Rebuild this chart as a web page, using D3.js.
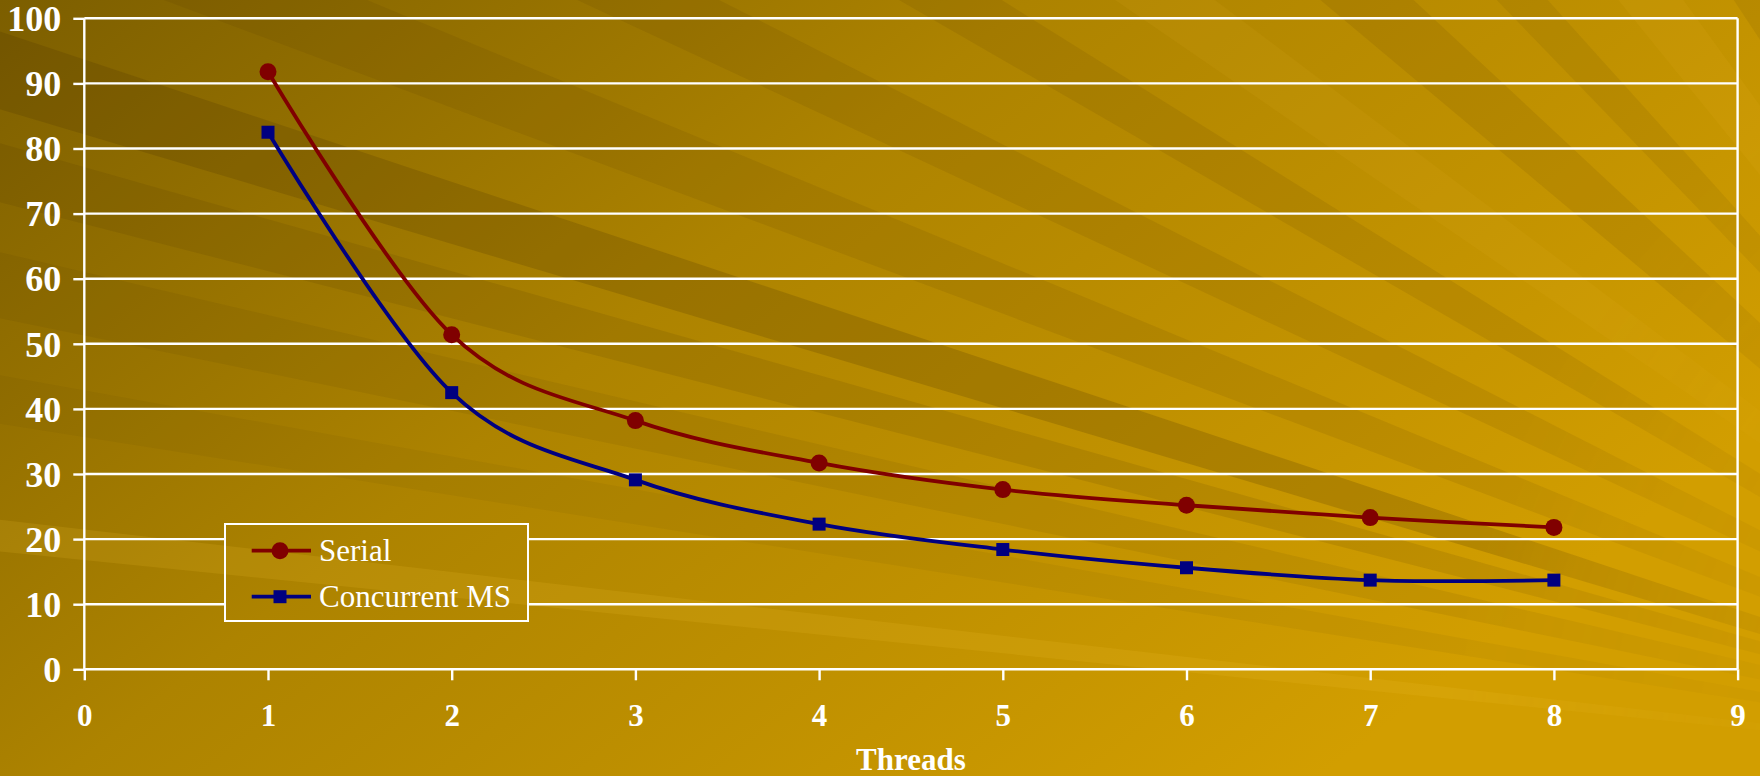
<!DOCTYPE html>
<html>
<head>
<meta charset="utf-8">
<script src="https://cdn.jsdelivr.net/npm/d3@7"></script>
<style>
  html, body { margin: 0; padding: 0; background: #a07a00; }
  svg { display: block; }
</style>
</head>
<body>
<svg id="chart" width="1760" height="776"></svg>
<script>
// ---- data ----
const threads = [1, 2, 3, 4, 5, 6, 7, 8];
const serial = [91.8, 51.4, 38.2, 31.7, 27.6, 25.2, 23.3, 21.8];
const concurrentMS = [82.5, 42.5, 29.1, 22.3, 18.4, 15.6, 13.7, 13.7];
const seriesNames = ["Serial", "Concurrent MS"];
const xTicks = [0, 1, 2, 3, 4, 5, 6, 7, 8, 9];
const yTicks = [0, 10, 20, 30, 40, 50, 60, 70, 80, 90, 100];
const xTitle = "Threads";

// ---- background rays: [start angle, end angle, tone, opacity] ----
const rays = [
  [16.6, 18.4, "dark", 0.20],
  [14.4, 15.8, "dark", 0.12],
  [11.6, 13.2, "dark", 0.09],
  [9.0, 10.2, "dark", 0.06],
  [5.8, 6.6, "light", 0.15],
  [20.5, 22.5, "dark", 0.10],
  [25.0, 27.0, "dark", 0.10],
  [30.0, 32.0, "dark", 0.10],
  [34.5, 37.0, "light", 0.08],
  [40.0, 43.0, "dark", 0.10],
  [46.0, 48.0, "dark", 0.09],
  [51.0, 54.0, "light", 0.09],
  [56.5, 59.0, "dark", 0.09]
];

const W = 1760, H = 776;
const svg = d3.select("#chart");
const defs = svg.append("defs");

const bgGrad = defs.append("linearGradient")
  .attr("id", "bgGrad")
  .attr("x1", 0).attr("y1", 0).attr("x2", 1).attr("y2", 0.55);
bgGrad.append("stop").attr("offset", 0).attr("stop-color", "#7c5e00");
bgGrad.append("stop").attr("offset", 0.45).attr("stop-color", "#ad8300");
bgGrad.append("stop").attr("offset", 1).attr("stop-color", "#d29e00");

// rays fade out toward the point they spring from
const focus = [2250, 780], reach = 3400;
const fade = defs.append("radialGradient").attr("id", "rayFade")
  .attr("gradientUnits", "userSpaceOnUse")
  .attr("cx", focus[0]).attr("cy", focus[1]).attr("r", 900);
fade.append("stop").attr("offset", 0.4).attr("stop-color", "black");
fade.append("stop").attr("offset", 0.9).attr("stop-color", "white");
const rayMask = defs.append("mask").attr("id", "rayMask")
  .attr("maskUnits", "userSpaceOnUse").attr("x", 0).attr("y", 0).attr("width", W).attr("height", H);
rayMask.append("rect").attr("width", W).attr("height", H).attr("fill", "url(#rayFade)");

// background drawn once, reused under the legend
const bg = defs.append("g").attr("id", "bgArt");
bg.append("rect").attr("width", W).attr("height", H).attr("fill", "url(#bgGrad)");
const rad = a => a * Math.PI / 180;
bg.append("g").attr("mask", "url(#rayMask)")
  .selectAll("polygon").data(rays).join("polygon")
  .attr("points", d => {
    const p0 = [focus[0] - reach * Math.cos(rad(d[0])), focus[1] - reach * Math.sin(rad(d[0]))];
    const p1 = [focus[0] - reach * Math.cos(rad(d[1])), focus[1] - reach * Math.sin(rad(d[1]))];
    return [focus, p0, p1].map(p => p.join(",")).join(" ");
  })
  .attr("fill", d => d[2] === "dark" ? "#4a3400" : "#f2c030")
  .attr("fill-opacity", d => d[3]);

svg.append("use").attr("href", "#bgArt");

// ---- scales ----
const x = d3.scaleLinear().domain([0, 9]).range([84.3, 1737.6]);
const y = d3.scaleLinear().domain([0, 100]).range([669.3, 18.3]);

// legend box (layout)
const legendBox = { x: 225, y: 524, w: 303, h: 97 };

// mask keeps gridlines out of the legend
const mask = defs.append("mask").attr("id", "noLegend")
  .attr("maskUnits", "userSpaceOnUse").attr("x", 0).attr("y", 0).attr("width", W).attr("height", H);
mask.append("rect").attr("width", W).attr("height", H).attr("fill", "white");
mask.append("rect").attr("x", legendBox.x).attr("y", legendBox.y)
  .attr("width", legendBox.w).attr("height", legendBox.h).attr("fill", "black");

const font = "'Liberation Serif', 'Times New Roman', serif";

// gridlines
svg.append("g").attr("mask", "url(#noLegend)")
  .selectAll("line").data(yTicks.filter(v => v > 0)).join("line")
  .attr("x1", x(0)).attr("x2", x(9))
  .attr("y1", d => y(d)).attr("y2", d => y(d))
  .attr("stroke", "white").attr("stroke-width", 2.4);

// y axis
const yAxis = svg.append("g").attr("transform", `translate(${x(0)},0)`)
  .call(d3.axisLeft(y).tickValues(yTicks).tickSize(11).tickPadding(12).tickFormat(d3.format("d")));
yAxis.select(".domain").attr("stroke", "white").attr("stroke-width", 2.4)
  .attr("d", `M0,${y(100)}V${y(0)}`);
yAxis.selectAll(".tick line").attr("stroke", "white").attr("stroke-width", 2.4);
yAxis.selectAll(".tick text").attr("fill", "white")
  .style("font-family", font).style("font-weight", "bold").style("font-size", "36px")
  .attr("dy", "0.34em");

// x axis
const xAxis = svg.append("g").attr("transform", `translate(0,${y(0)})`)
  .call(d3.axisBottom(x).tickValues(xTicks).tickSize(11).tickPadding(24).tickFormat(d3.format("d")));
xAxis.select(".domain").attr("stroke", "white").attr("stroke-width", 2.4)
  .attr("d", `M${x(0)},0H${x(9)}`);
xAxis.selectAll(".tick line").attr("stroke", "white").attr("stroke-width", 2.4);
xAxis.selectAll(".tick text").attr("fill", "white")
  .style("font-family", font).style("font-weight", "bold").style("font-size", "31px");

// right border of the plot area
svg.append("line")
  .attr("x1", x(9)).attr("x2", x(9)).attr("y1", y(100)).attr("y2", y(0))
  .attr("stroke", "white").attr("stroke-width", 2.4);

// axis title
svg.append("text")
  .attr("x", (x(0) + x(9)) / 2).attr("y", 770)
  .attr("text-anchor", "middle").attr("fill", "white")
  .style("font-family", font).style("font-weight", "bold").style("font-size", "31px")
  .text(xTitle);

// ---- series ----
const series = [
  { name: seriesNames[0], values: serial, color: "#800000", marker: "circle" },
  { name: seriesNames[1], values: concurrentMS, color: "#000080", marker: "square" }
];

const line = d3.line()
  .x((d, i) => x(threads[i]))
  .y(d => y(d))
  .curve(d3.curveCardinal.tension(0));

const drawMarker = (g, type, color, cx, cy) => {
  if (type === "circle") {
    g.append("circle").attr("cx", cx).attr("cy", cy).attr("r", 8.5).attr("fill", color);
  } else {
    g.append("rect").attr("x", cx - 6.5).attr("y", cy - 6.5).attr("width", 13).attr("height", 13).attr("fill", color);
  }
};

series.forEach(s => {
  const g = svg.append("g");
  g.append("path").datum(s.values)
    .attr("d", line).attr("fill", "none")
    .attr("stroke", s.color).attr("stroke-width", 3.8).attr("stroke-linejoin", "round");
  s.values.forEach((v, i) => drawMarker(g, s.marker, s.color, x(threads[i]), y(v)));
});

// ---- legend ----
const lg = svg.append("g");
lg.append("rect")
  .attr("x", legendBox.x).attr("y", legendBox.y)
  .attr("width", legendBox.w).attr("height", legendBox.h)
  .attr("fill", "none").attr("stroke", "white").attr("stroke-width", 2);
const legendRows = [550.7, 596.7];
series.forEach((s, i) => {
  const ly = legendRows[i];
  lg.append("line").attr("x1", 251.7).attr("x2", 311).attr("y1", ly).attr("y2", ly)
    .attr("stroke", s.color).attr("stroke-width", 3.8);
  drawMarker(lg, s.marker, s.color, 280, ly);
  lg.append("text").attr("x", 319).attr("y", ly).attr("dy", "0.34em")
    .attr("fill", "white")
    .style("font-family", font).style("font-size", "31px")
    .text(s.name);
});
</script>
</body>
</html>
